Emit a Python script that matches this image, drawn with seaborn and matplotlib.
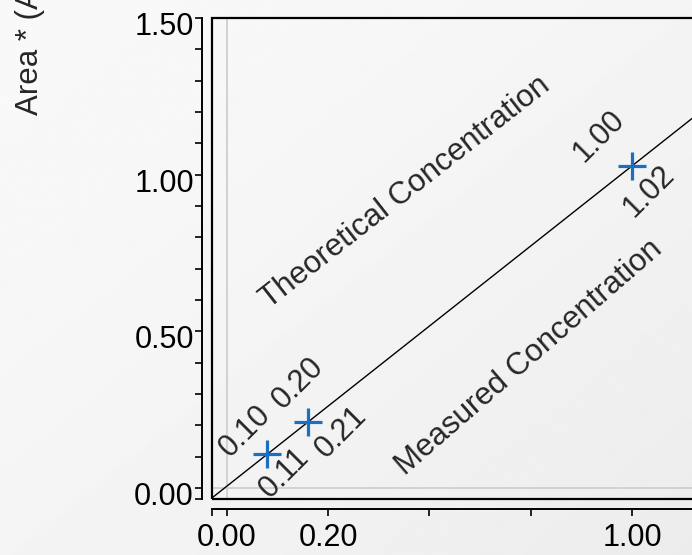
import numpy as np
import pandas as pd
import matplotlib
matplotlib.use("Agg")
import matplotlib.pyplot as plt
import seaborn as sns
from matplotlib.patches import Rectangle
from matplotlib.ticker import FixedLocator
from matplotlib.transforms import ScaledTranslation

# calibration points
theoretical = [0.10, 0.20, 1.00]
measured = [0.109, 0.21, 1.028]
theo_labels = ["0.10", "0.20", "1.00"]
meas_labels = ["0.11", "0.21", "1.02"]

x_ticks = [0.0, 0.25, 0.5, 0.75, 1.0]
x_tick_labels = ["0.00", "0.20", "", "", "1.00"]
y_ticks = [0.0, 0.5, 1.0, 1.5]
y_tick_labels = ["0.00", "0.50", "1.00", "1.50"]
y_minor = [0.1, 0.2, 0.3, 0.4, 0.6, 0.7, 0.8, 0.9, 1.1, 1.2, 1.3, 1.4]

x_range = (-0.037, 1.2)
y_range = (-0.035, 1.5)

# label offsets in pixels (above-left for theoretical, below-right for measured)
theo_offsets = [(-22, 23), (-10, 39), (-33, 30)]
meas_offsets = [(17, -19), (33, -10), (17, -25)]

df = pd.DataFrame({"theoretical": theoretical, "measured": measured})

sns.set_style("white")
plt.rcParams["font.family"] = ["Liberation Sans", "DejaVu Sans"]

fig = plt.figure(figsize=(6.92, 5.55), dpi=100)

# soft gradient backdrop
bg = fig.add_axes([0, 0, 1, 1], zorder=-10)
yy, xx = np.mgrid[0:1:200j, 0:1:200j]
grad = 0.975 - 0.05 * ((xx + yy) / 2) ** 1.5
bg.imshow(grad, cmap="gray", vmin=0, vmax=1, aspect="auto", extent=[0, 1, 0, 1])
bg.axis("off")

ax = fig.add_axes([212 / 692, 56 / 555, 501 / 692, 481 / 555])
ax.set_facecolor("none")
ax.set_xlim(*x_range)
ax.set_ylim(*y_range)

ax.axvline(0, color="#cfcfcf", lw=1.3, zorder=1)
ax.axhline(0, color="#cfcfcf", lw=1.3, zorder=1)

sns.regplot(data=df, x="theoretical", y="measured", ax=ax, scatter=False,
            ci=None, truncate=False, line_kws=dict(color="black", lw=1.0, zorder=2))
sns.scatterplot(data=df, x="theoretical", y="measured", ax=ax, marker="+",
                s=420, linewidth=2.3, color="#1a70c0", zorder=3)

ax.set_xlim(*x_range)
ax.set_ylim(*y_range)

for x, y, lab, off in zip(theoretical, measured, theo_labels, theo_offsets):
    ax.annotate(lab, (x, y), xytext=off, textcoords="offset pixels", fontsize=22,
                rotation=45, rotation_mode="anchor", ha="center", va="center")
for x, y, lab, off in zip(theoretical, measured, meas_labels, meas_offsets):
    ax.annotate(lab, (x, y), xytext=off, textcoords="offset pixels", fontsize=22,
                rotation=45, rotation_mode="anchor", ha="center", va="center")

ax.text(0.44, 0.945, "Theoretical Concentration", fontsize=22.5, rotation=38,
        rotation_mode="anchor", ha="center", va="center")
ax.text(0.746, 0.415, "Measured Concentration", fontsize=22.5, rotation=41,
        rotation_mode="anchor", ha="center", va="center")

# frame around the data region, axis lines pushed outward
ax.add_patch(Rectangle((0, 0), 1, 1, transform=ax.transAxes, fill=False,
                       lw=1.6, edgecolor="black", clip_on=False, zorder=5))
sns.despine(ax=ax, offset=7, top=True, right=True)
for side in ["left", "bottom"]:
    ax.spines[side].set_linewidth(1.4)
    ax.spines[side].set_color("black")

ax.set_xticks(x_ticks)
ax.set_xticklabels(x_tick_labels)
ax.set_yticks(y_ticks)
ax.set_yticklabels(y_tick_labels)
ax.xaxis.set_minor_locator(FixedLocator([x_range[0]]))
ax.yaxis.set_minor_locator(FixedLocator([y_range[0]] + y_minor))
ax.tick_params(axis="both", which="both", direction="out", length=5, width=1.2,
               color="black", labelsize=22, labelcolor="black")
ax.tick_params(axis="x", which="both", bottom=True, pad=5)
ax.tick_params(axis="y", which="both", left=True, pad=1)
ax.set_xlabel("")
ax.set_ylabel("")

# y labels sit a little below their ticks in the reference
shift = ScaledTranslation(0, -4 / 72, fig.dpi_scale_trans)
for lab in ax.get_yticklabels():
    lab.set_transform(lab.get_transform() + shift)

fig.text(30 / 692, 1 - 115 / 555, "Area * (AU)", fontsize=22.5, rotation=90,
         rotation_mode="anchor", ha="left", va="center")

fig.savefig("out.png", dpi=100)
